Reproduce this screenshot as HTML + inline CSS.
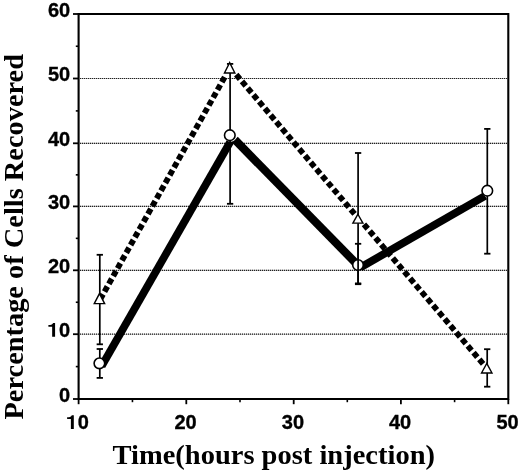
<!DOCTYPE html><html><head><meta charset="utf-8"><style>html,body{margin:0;padding:0;background:#fff;}svg{display:block;will-change:transform;}</style></head><body>
<svg width="520" height="473" viewBox="0 0 520 473">
<rect width="520" height="473" fill="#fff"/>
<line x1="80" y1="334.2" x2="507" y2="334.2" stroke="#b4b4b4" stroke-width="1.15"/>
<line x1="80" y1="334.2" x2="507" y2="334.2" stroke="#222" stroke-width="1.2" stroke-dasharray="1 1"/>
<line x1="80" y1="270.3" x2="507" y2="270.3" stroke="#b4b4b4" stroke-width="1.15"/>
<line x1="80" y1="270.3" x2="507" y2="270.3" stroke="#222" stroke-width="1.2" stroke-dasharray="1 1"/>
<line x1="80" y1="206.4" x2="507" y2="206.4" stroke="#b4b4b4" stroke-width="1.15"/>
<line x1="80" y1="206.4" x2="507" y2="206.4" stroke="#222" stroke-width="1.2" stroke-dasharray="1 1"/>
<line x1="80" y1="143.3" x2="507" y2="143.3" stroke="#b4b4b4" stroke-width="1.15"/>
<line x1="80" y1="143.3" x2="507" y2="143.3" stroke="#222" stroke-width="1.2" stroke-dasharray="1 1"/>
<line x1="80" y1="78.5" x2="507" y2="78.5" stroke="#b4b4b4" stroke-width="1.15"/>
<line x1="80" y1="78.5" x2="507" y2="78.5" stroke="#222" stroke-width="1.2" stroke-dasharray="1 1"/>
<path d="M78.6 14.0H508.3V399.0H78.6Z" fill="none" stroke="#000" stroke-width="2.1"/>
<line x1="73.0" y1="399.0" x2="78.6" y2="399.0" stroke="#000" stroke-width="1.8"/>
<line x1="73.0" y1="334.2" x2="78.6" y2="334.2" stroke="#000" stroke-width="1.8"/>
<line x1="73.0" y1="270.3" x2="78.6" y2="270.3" stroke="#000" stroke-width="1.8"/>
<line x1="73.0" y1="206.4" x2="78.6" y2="206.4" stroke="#000" stroke-width="1.8"/>
<line x1="73.0" y1="143.3" x2="78.6" y2="143.3" stroke="#000" stroke-width="1.8"/>
<line x1="73.0" y1="78.5" x2="78.6" y2="78.5" stroke="#000" stroke-width="1.8"/>
<line x1="73.0" y1="14.0" x2="78.6" y2="14.0" stroke="#000" stroke-width="1.8"/>
<line x1="75.8" y1="366.60" x2="78.6" y2="366.60" stroke="#000" stroke-width="1.6"/>
<line x1="75.8" y1="302.25" x2="78.6" y2="302.25" stroke="#000" stroke-width="1.6"/>
<line x1="75.8" y1="238.35" x2="78.6" y2="238.35" stroke="#000" stroke-width="1.6"/>
<line x1="75.8" y1="174.85" x2="78.6" y2="174.85" stroke="#000" stroke-width="1.6"/>
<line x1="75.8" y1="110.90" x2="78.6" y2="110.90" stroke="#000" stroke-width="1.6"/>
<line x1="75.8" y1="46.25" x2="78.6" y2="46.25" stroke="#000" stroke-width="1.6"/>
<line x1="78.6" y1="399.0" x2="78.6" y2="404.2" stroke="#000" stroke-width="1.8"/>
<line x1="186.3" y1="399.0" x2="186.3" y2="404.2" stroke="#000" stroke-width="1.8"/>
<line x1="293.7" y1="399.0" x2="293.7" y2="404.2" stroke="#000" stroke-width="1.8"/>
<line x1="400.9" y1="399.0" x2="400.9" y2="404.2" stroke="#000" stroke-width="1.8"/>
<line x1="508.3" y1="399.0" x2="508.3" y2="404.2" stroke="#000" stroke-width="1.8"/>
<line x1="132.45" y1="399.0" x2="132.45" y2="402.2" stroke="#000" stroke-width="1.6"/>
<line x1="240.00" y1="399.0" x2="240.00" y2="402.2" stroke="#000" stroke-width="1.6"/>
<line x1="347.30" y1="399.0" x2="347.30" y2="402.2" stroke="#000" stroke-width="1.6"/>
<line x1="454.60" y1="399.0" x2="454.60" y2="402.2" stroke="#000" stroke-width="1.6"/>
<g font-family="Liberation Sans, sans-serif" font-weight="bold" font-size="20" fill="#000" stroke="#000" stroke-width="0.35">
<text x="70.2" y="401.6" text-anchor="end">0</text>
<path transform="translate(47.96 336.80) scale(0.009766 -0.009766)" d="M430 0H730V1409H530Q480 1290 340 1245Q230 1215 45 1213V1024H430Z"/>
<text x="59.08" y="336.8">0</text>
<text x="70.2" y="272.9" text-anchor="end">20</text>
<text x="70.2" y="209.0" text-anchor="end">30</text>
<text x="70.2" y="145.9" text-anchor="end">40</text>
<text x="70.2" y="81.1" text-anchor="end">50</text>
<text x="70.2" y="16.6" text-anchor="end">60</text>
<path transform="translate(66.68 429.10) scale(0.009766 -0.009766)" d="M430 0H730V1409H530Q480 1290 340 1245Q230 1215 45 1213V1024H430Z"/>
<text x="77.80" y="429.1">0</text>
<text x="185.5" y="429.1" text-anchor="middle">20</text>
<text x="292.9" y="429.1" text-anchor="middle">30</text>
<text x="400.1" y="429.1" text-anchor="middle">40</text>
<text x="507.5" y="429.1" text-anchor="middle">50</text>
</g>
<text x="112.5" y="463.8" font-family="Liberation Serif, serif" font-weight="bold" font-size="28" textLength="322.5" lengthAdjust="spacingAndGlyphs">Time(hours post injection)</text>
<text transform="translate(22.8 419.5) rotate(-90)" x="0" y="0" font-family="Liberation Serif, serif" font-weight="bold" font-size="28" textLength="365.5" lengthAdjust="spacingAndGlyphs">Percentage of Cells Recovered</text>
<path d="M101.7 366.0L232.73 137.54" fill="none" stroke="#000" stroke-width="7.7"/>
<path d="M234.83 139.68L360.2 267.6" fill="none" stroke="#000" stroke-width="8.2"/>
<path d="M360.2 267.6L485.1 195.85" fill="none" stroke="#000" stroke-width="7.8"/>
<circle cx="230.75" cy="135.80" r="5.95" fill="#fff"/>
<circle cx="488.25" cy="191.30" r="5.95" fill="#fff"/>
<line x1="99.8" y1="349.0" x2="99.8" y2="377.9" stroke="#000" stroke-width="1.7"/><line x1="96.65" y1="349.0" x2="102.95" y2="349.0" stroke="#000" stroke-width="1.8"/><line x1="96.65" y1="377.9" x2="102.95" y2="377.9" stroke="#000" stroke-width="1.8"/>
<line x1="230.1" y1="63.9" x2="230.1" y2="203.8" stroke="#000" stroke-width="1.7"/><line x1="226.95" y1="63.9" x2="233.25" y2="63.9" stroke="#000" stroke-width="1.8"/><line x1="226.95" y1="203.8" x2="233.25" y2="203.8" stroke="#000" stroke-width="1.8"/>
<line x1="358.1" y1="243.8" x2="358.1" y2="284.2" stroke="#000" stroke-width="1.7"/><line x1="354.95" y1="243.8" x2="361.25" y2="243.8" stroke="#000" stroke-width="1.8"/><line x1="354.95" y1="284.2" x2="361.25" y2="284.2" stroke="#000" stroke-width="1.8"/>
<line x1="487.3" y1="128.9" x2="487.3" y2="253.7" stroke="#000" stroke-width="1.7"/><line x1="484.15" y1="128.9" x2="490.45" y2="128.9" stroke="#000" stroke-width="1.8"/><line x1="484.15" y1="253.7" x2="490.45" y2="253.7" stroke="#000" stroke-width="1.8"/>
<circle cx="99.4" cy="363.35" r="5.3" fill="#fff" stroke="#000" stroke-width="1.6"/>
<circle cx="229.8" cy="135.2" r="5.3" fill="#fff" stroke="#000" stroke-width="1.6"/>
<circle cx="358.0" cy="265.0" r="5.3" fill="#fff" stroke="#000" stroke-width="1.6"/>
<circle cx="487.3" cy="190.7" r="5.3" fill="#fff" stroke="#000" stroke-width="1.6"/>
<line x1="99.8" y1="254.8" x2="99.8" y2="344.3" stroke="#000" stroke-width="1.7"/><line x1="96.65" y1="254.8" x2="102.95" y2="254.8" stroke="#000" stroke-width="1.8"/><line x1="96.65" y1="344.3" x2="102.95" y2="344.3" stroke="#000" stroke-width="1.8"/>
<line x1="358.1" y1="153.0" x2="358.1" y2="283.4" stroke="#000" stroke-width="1.7"/><line x1="354.95" y1="153.0" x2="361.25" y2="153.0" stroke="#000" stroke-width="1.8"/><line x1="354.95" y1="283.4" x2="361.25" y2="283.4" stroke="#000" stroke-width="1.8"/>
<line x1="487.2" y1="349.2" x2="487.2" y2="386.7" stroke="#000" stroke-width="1.7"/><line x1="484.05" y1="349.2" x2="490.35" y2="349.2" stroke="#000" stroke-width="1.8"/><line x1="484.05" y1="386.7" x2="490.35" y2="386.7" stroke="#000" stroke-width="1.8"/>
<path d="M100.20 299.31L224.71 77.13" fill="none" stroke="#000" stroke-width="5.8" stroke-dasharray="5.8 3.0889"/>
<path d="M236.25 74.67L354.58 213.97" fill="none" stroke="#000" stroke-width="5.8" stroke-dasharray="5.8 3.0488"/>
<path d="M363.95 224.34L483.09 363.82" fill="none" stroke="#000" stroke-width="5.8" stroke-dasharray="5.8 3.0819"/>
<path d="M99.45 293.60L104.65 303.6L94.25 303.6Z" fill="#fff" stroke="#000" stroke-width="1.4" stroke-linejoin="miter"/>
<path d="M229.65 62.60L234.85 73.0L224.45000000000002 73.0Z" fill="#fff" stroke="#000" stroke-width="1.4" stroke-linejoin="miter"/>
<path d="M357.9 214.25L362.9 223.15L352.9 223.15Z" fill="#fff" stroke="#000" stroke-width="1.4" stroke-linejoin="miter"/>
<path d="M486.75 363.45L491.95 372.95L481.55 372.95Z" fill="#fff" stroke="#000" stroke-width="1.4" stroke-linejoin="miter"/>
</svg></body></html>
